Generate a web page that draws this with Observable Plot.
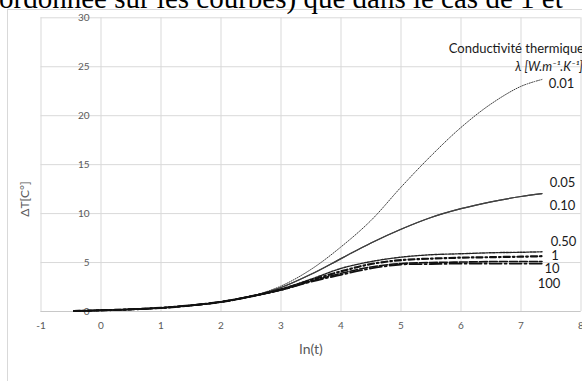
<!DOCTYPE html>
<html>
<head>
<meta charset="utf-8">
<script src="https://cdn.jsdelivr.net/npm/d3@7"></script>
<script src="https://cdn.jsdelivr.net/npm/@observablehq/plot@0.6"></script>
<style>
  html, body { margin: 0; padding: 0; background: #fff; overflow: hidden; }
  #wrap { position: relative; width: 582px; height: 381px; overflow: hidden; background: #fff; }
  #frame { position: absolute; left: 7px; top: 9px; width: 600px; height: 400px; border: 1px solid #d9d9d9; box-sizing: border-box; }
  #chart { position: absolute; left: 0; top: 0; }
  #toptext { position: absolute; left: 0; top: 0; }
</style>
</head>
<body>
<div id="wrap">
  <div id="frame"></div>
  <div id="chart"></div>
  <svg id="toptext" width="582" height="20"><text x="-1" y="7.5" font-family="'Liberation Serif', serif" font-size="29" fill="#000">ordonnée sur les courbes) que dans le cas de 1 et</text></svg>
</div>
<script>
// ---- data ----
const lnT = [-0.45, 0, 0.5, 1, 1.5, 2, 2.5, 3, 3.5, 4, 4.5, 5, 5.5, 6, 6.5, 7, 7.35];
const k001 = [0.05, 0.12, 0.22, 0.37, 0.62, 0.98, 1.55, 2.6, 4.3, 6.6, 9.3, 12.7, 15.9, 18.8, 21.2, 23.0, 23.7];
const k005 = [0.05, 0.12, 0.22, 0.37, 0.62, 0.98, 1.55, 2.45, 3.8, 5.4, 7.0, 8.4, 9.6, 10.5, 11.2, 11.75, 12.05];
const k010 = [0.05, 0.12, 0.22, 0.37, 0.62, 0.98, 1.55, 2.45, 3.8, 5.4, 7.0, 8.4, 9.6, 10.5, 11.2, 11.75, 12.05];
const k050 = [0.05, 0.12, 0.22, 0.37, 0.62, 0.98, 1.55, 2.3, 3.3, 4.4, 5.1, 5.55, 5.8, 5.9, 6.0, 6.05, 6.1];
const k1   = [0.05, 0.12, 0.22, 0.37, 0.62, 0.98, 1.55, 2.25, 3.2, 4.1, 4.85, 5.25, 5.4, 5.5, 5.55, 5.6, 5.65];
const k10  = [0.05, 0.12, 0.22, 0.37, 0.62, 0.98, 1.55, 2.2, 3.1, 3.9, 4.55, 4.9, 5.0, 5.05, 5.1, 5.1, 5.1];
const k100 = [0.05, 0.12, 0.22, 0.37, 0.62, 0.98, 1.55, 2.2, 3.05, 3.75, 4.4, 4.8, 4.85, 4.9, 4.9, 4.9, 4.9];
const seriesNames = ["0.01", "0.05", "0.10", "0.50", "1", "10", "100"];
const seriesValues = [k001, k005, k010, k050, k1, k10, k100];
const xTicks = [-1, 0, 1, 2, 3, 4, 5, 6, 7, 8];
const yTicks = [0, 5, 10, 15, 20, 25, 30];
const legendTitle = "Conductivité thermique";
const legendUnit = "λ [W.m⁻¹.K⁻¹]";
const xTitle = "ln(t)";
const yTitle = "ΔT[C°]";

// ---- styles (not data) ----
const lineStyle = {
  "0.10": {stroke: "#404040", width: 1.2, dash: null},
  "0.05": {stroke: "#404040", width: 1.2, dash: null},
  "0.01": {stroke: "#3c3c3c", width: 1, dash: "1 1.4"},
  "0.50": {stroke: "#222", width: 1.4, dash: "2.2 1.2"},
  "1":    {stroke: "#111", width: 2.2, dash: "6 3 1.6 3"},
  "10":   {stroke: "#111", width: 1.6, dash: "8 2"},
  "100":  {stroke: "#111", width: 1.8, dash: "12 3 2 3"}
};
const labelOffset = {
  "0.01": [19.5, 4], "0.05": [20.5, -11], "0.10": [20.5, 12], "0.50": [21.5, -10],
  "1": [13, 0], "10": [10, 7], "100": [7, 20]
};

const rows = [];
seriesNames.forEach((name, i) => {
  seriesValues[i].forEach((v, j) => rows.push({series: name, x: lnT[j], y: v}));
});
const ends = seriesNames.map((name, i) => ({series: name, x: lnT[lnT.length - 1], y: seriesValues[i][seriesValues[i].length - 1]}));

const font = "Lato, 'Open Sans', sans-serif";

const marks = [
  Plot.ruleX(xTicks, {x: d => d, stroke: "#d9d9d9", strokeWidth: 1}),
  Plot.ruleY(yTicks, {y: d => d, stroke: "#d9d9d9", strokeWidth: 1}),
  Plot.ruleY([0], {y: d => d, stroke: "#c8c8c8", strokeWidth: 1}),
  Plot.text(yTicks, {x: 0, y: d => d, text: d => String(d), textAnchor: "end", dx: -11.5, fill: "#595959", fontSize: 10}),
  Plot.text(xTicks, {x: d => d, y: 0, text: d => String(d), dy: 14, fill: "#595959", fontSize: 10})
];
seriesNames.forEach(name => {
  const s = lineStyle[name];
  marks.push(Plot.line(rows.filter(r => r.series === name), {
    x: "x", y: "y", curve: "catmull-rom",
    stroke: s.stroke, strokeWidth: s.width, strokeDasharray: s.dash || undefined
  }));
});
ends.forEach(e => {
  const [dx, dy] = labelOffset[e.series];
  marks.push(Plot.text([e], {x: "x", y: "y", text: "series", dx, dy, fill: "#1a1a1a", fontSize: 13}));
});
marks.push(
  Plot.text([legendTitle], {frameAnchor: "top-right", text: d => d, textAnchor: "end", dx: 3, dy: 26, fill: "#1a1a1a", fontSize: 13}),
  Plot.text([legendUnit], {frameAnchor: "top-right", text: d => d, textAnchor: "end", dx: 2, dy: 44.5, fill: "#1a1a1a", fontSize: 12.5, fontStyle: "italic"}),
  Plot.text([xTitle], {frameAnchor: "bottom", text: d => d, dy: 42, fill: "#595959", fontSize: 14}),
  Plot.text([yTitle], {frameAnchor: "left", text: d => d, rotate: -90, dx: -15.5, dy: 52, fill: "#595959", fontSize: 12})
);

const chart = Plot.plot({
  width: 582,
  height: 381,
  marginLeft: 40.5,
  marginRight: 1.5,
  marginTop: 17.3,
  marginBottom: 70,
  x: {domain: [-1, 8], axis: null},
  y: {domain: [0, 30], axis: null},
  style: {background: "transparent", fontFamily: font, overflow: "visible"},
  marks
});
document.getElementById("chart").appendChild(chart);
</script>
</body>
</html>
